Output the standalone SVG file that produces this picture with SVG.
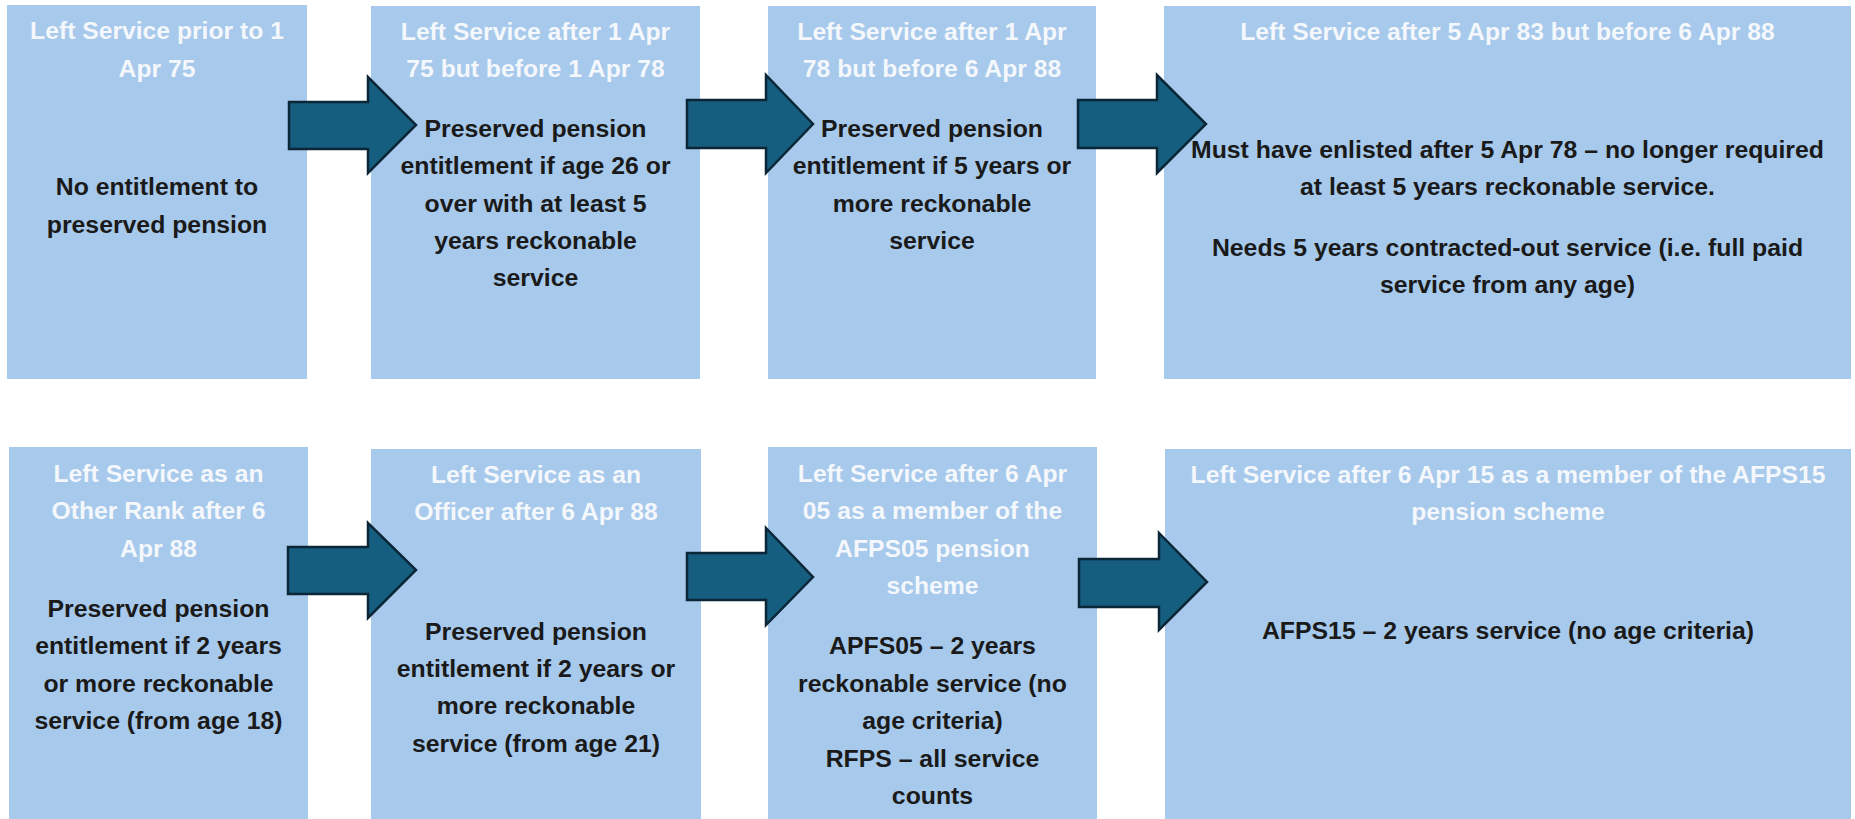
<svg xmlns="http://www.w3.org/2000/svg" width="1855" height="819" viewBox="0 0 1855 819">
<style>
.box{fill:#A7C9EB;}
.t{font-family:"Liberation Sans",Arial,sans-serif;font-weight:bold;font-size:24.7px;fill:#F4F7FB;text-anchor:middle;}
.b{font-family:"Liberation Sans",Arial,sans-serif;font-weight:bold;font-size:24.8px;fill:#1A1A1A;text-anchor:middle;}
.arrow{fill:#165E80;stroke:#0B2637;stroke-width:2.5;stroke-linejoin:miter;}
</style>
<rect width="1855" height="819" fill="#FFFFFF"/>
<g id="node1">
<rect class="box" x="7" y="5" width="300" height="374"/>
<text class="t" x="157" y="39">Left Service prior to 1</text>
<text class="t" x="157" y="77">Apr 75</text>
<text class="b" x="157" y="195">No entitlement to</text>
<text class="b" x="157" y="233">preserved pension</text>
</g>
<g id="node2">
<rect class="box" x="371" y="6" width="329" height="373"/>
<text class="t" x="535.5" y="40">Left Service after 1 Apr</text>
<text class="t" x="535.5" y="77">75 but before 1 Apr 78</text>
<text class="b" x="535.5" y="137">Preserved pension</text>
<text class="b" x="535.5" y="174">entitlement if age 26 or</text>
<text class="b" x="535.5" y="212">over with at least 5</text>
<text class="b" x="535.5" y="249">years reckonable</text>
<text class="b" x="535.5" y="286">service</text>
</g>
<g id="node3">
<rect class="box" x="768" y="6" width="328" height="373"/>
<text class="t" x="932" y="40">Left Service after 1 Apr</text>
<text class="t" x="932" y="77">78 but before 6 Apr 88</text>
<text class="b" x="932" y="137">Preserved pension</text>
<text class="b" x="932" y="174">entitlement if 5 years or</text>
<text class="b" x="932" y="212">more reckonable</text>
<text class="b" x="932" y="249">service</text>
</g>
<g id="node4">
<rect class="box" x="1164" y="6" width="687" height="373"/>
<text class="t" x="1507.5" y="40">Left Service after 5 Apr 83 but before 6 Apr 88</text>
<text class="b" x="1507.5" y="158">Must have enlisted after 5 Apr 78 – no longer required</text>
<text class="b" x="1507.5" y="195">at least 5 years reckonable service.</text>
<text class="b" x="1507.5" y="256">Needs 5 years contracted-out service (i.e. full paid</text>
<text class="b" x="1507.5" y="293">service from any age)</text>
</g>
<g id="node5">
<rect class="box" x="9" y="447" width="299" height="372"/>
<text class="t" x="158.5" y="482">Left Service as an</text>
<text class="t" x="158.5" y="519">Other Rank after 6</text>
<text class="t" x="158.5" y="557">Apr 88</text>
<text class="b" x="158.5" y="617">Preserved pension</text>
<text class="b" x="158.5" y="654">entitlement if 2 years</text>
<text class="b" x="158.5" y="692">or more reckonable</text>
<text class="b" x="158.5" y="729">service (from age 18)</text>
</g>
<g id="node6">
<rect class="box" x="371" y="449" width="330" height="370"/>
<text class="t" x="536" y="483">Left Service as an</text>
<text class="t" x="536" y="520">Officer after 6 Apr 88</text>
<text class="b" x="536" y="640">Preserved pension</text>
<text class="b" x="536" y="677">entitlement if 2 years or</text>
<text class="b" x="536" y="714">more reckonable</text>
<text class="b" x="536" y="752">service (from age 21)</text>
</g>
<g id="node7">
<rect class="box" x="768" y="447" width="329" height="372"/>
<text class="t" x="932.5" y="482">Left Service after 6 Apr</text>
<text class="t" x="932.5" y="519">05 as a member of the</text>
<text class="t" x="932.5" y="557">AFPS05 pension</text>
<text class="t" x="932.5" y="594">scheme</text>
<text class="b" x="932.5" y="654">APFS05 – 2 years</text>
<text class="b" x="932.5" y="692">reckonable service (no</text>
<text class="b" x="932.5" y="729">age criteria)</text>
<text class="b" x="932.5" y="767">RFPS – all service</text>
<text class="b" x="932.5" y="804">counts</text>
</g>
<g id="node8">
<rect class="box" x="1165" y="449" width="686" height="370"/>
<text class="t" x="1508" y="483">Left Service after 6 Apr 15 as a member of the AFPS15</text>
<text class="t" x="1508" y="520">pension scheme</text>
<text class="b" x="1508" y="639">AFPS15 – 2 years service (no age criteria)</text>
</g>
<g id="connectors">
<path class="arrow" d="M289,102 H368 V77 L416,125 L368,173 V149 H289 Z"/>
<path class="arrow" d="M687,100 H766 V75 L813,124 L766,173 V148 H687 Z"/>
<path class="arrow" d="M1078,100 H1157 V75 L1206,124 L1157,173 V148 H1078 Z"/>
<path class="arrow" d="M288,547 H368 V523 L416,570 L368,618 V594 H288 Z"/>
<path class="arrow" d="M687,553 H766 V528 L813,577 L766,625 V600 H687 Z"/>
<path class="arrow" d="M1079,559 H1159 V533 L1207,582 L1159,630 V607 H1079 Z"/>
</g>
</svg>
